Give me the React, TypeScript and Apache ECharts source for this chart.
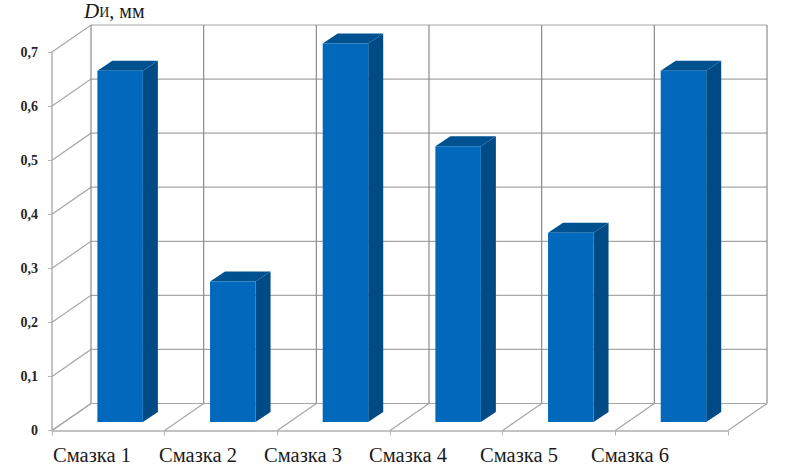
import React, { useEffect, useRef } from "react";
import * as echarts from "echarts";

const categories = ["Смазка 1", "Смазка 2", "Смазка 3", "Смазка 4", "Смазка 5", "Смазка 6"];
const values = [0.65, 0.26, 0.7, 0.51, 0.35, 0.65];
const yTicks = [0, 0.1, 0.2, 0.3, 0.4, 0.5, 0.6, 0.7];
// The reference's category captions sit unevenly, independent of the bars
const captionCentres = [92, 198, 303, 408, 519, 630];

const DEPTH_X = 39;
const DEPTH_Y = 27;
const BAR_DX = 15;
const BAR_DY = 10;
const FACE_RATIO = 45.5 / 112.67;
const WALL = "#a6a6a6";
const DIVIDER = "#8a8a8a";
const FRONT_AXIS = "#b0b0b0";
const FONT = '"Liberation Serif", "Times New Roman", serif';

export default function App() {
  const ref = useRef<HTMLDivElement>(null);
  useEffect(() => {
    document.body.style.margin = "0";
    const chart = echarts.init(ref.current!, null, { renderer: "svg" });
    const line = (pts: number[][], stroke: string, lineWidth = 1.2) => ({
      type: "polyline",
      shape: { points: pts },
      style: { stroke, lineWidth, fill: "none" },
    });

    chart.setOption({
      animation: false,
      backgroundColor: "#ffffff",
      title: {
        left: 84,
        top: 3,
        padding: 0,
        text: "{d|D}{s|И}{r|, мм}",
        textStyle: {
          fontWeight: "normal",
          rich: {
            d: { fontFamily: FONT, fontSize: 21, fontStyle: "italic", fontWeight: "normal", color: "#1a1a1a", lineHeight: 15, height: 15 },
            s: { fontFamily: FONT, fontSize: 14, fontStyle: "normal", fontWeight: "normal", color: "#1a1a1a", lineHeight: 15, height: 15, padding: [4, 0, 0, 0] },
            r: { fontFamily: FONT, fontSize: 20, fontStyle: "normal", fontWeight: "normal", color: "#1a1a1a", lineHeight: 15, height: 15 },
          },
        },
      },
      grid: [
        { left: 52, width: 676, top: 52, height: 378.5 },
        { left: 63.8, width: 676, top: 43.6, height: 378.4 },
      ],
      xAxis: [
        {
          type: "category",
          gridIndex: 0,
          data: categories,
          boundaryGap: true,
          axisLine: { show: true, lineStyle: { color: FRONT_AXIS, width: 1.5 } },
          axisTick: { show: true, alignWithLabel: false, length: 5, lineStyle: { color: "#b5b5b5" } },
          axisLabel: { show: false },
          splitLine: { show: false },
        },
        {
          type: "category",
          gridIndex: 1,
          data: categories,
          show: false,
        },
      ],
      yAxis: [
        {
          type: "value",
          gridIndex: 0,
          min: 0,
          max: 0.7,
          interval: 0.1,
          axisLine: { show: true, lineStyle: { color: FRONT_AXIS, width: 1.5 } },
          axisTick: { show: true, length: 4, lineStyle: { color: "#b5b5b5" } },
          axisLabel: {
            margin: 14,
            fontFamily: FONT,
            fontWeight: "bold",
            fontSize: 14,
            color: "#262626",
            formatter: (v: number) => (v === 0 ? "0" : v.toFixed(1).replace(".", ",")),
          },
          splitLine: { show: false },
        },
        { type: "value", gridIndex: 1, min: 0, max: 0.7, interval: 0.1, show: false },
      ],
      series: [
        {
          // side-wall and back-wall lines at every value tick
          type: "custom",
          xAxisIndex: 0,
          yAxisIndex: 0,
          z: 1,
          silent: true,
          clip: false,
          data: yTicks.map((t) => [0, t]),
          renderItem: (params: any, api: any) => {
            const cs = params.coordSys;
            const y = api.coord([0, api.value(1)])[1];
            return line(
              [
                [cs.x, y],
                [cs.x + DEPTH_X, y - DEPTH_Y],
                [cs.x + cs.width + DEPTH_X, y - DEPTH_Y],
              ],
              WALL
            );
          },
        },
        {
          // back-wall dividers and floor lines at every category boundary
          type: "custom",
          xAxisIndex: 0,
          yAxisIndex: 0,
          z: 1,
          silent: true,
          clip: false,
          data: [...categories, ""].map(() => [0, 0]),
          renderItem: (params: any) => {
            const cs = params.coordSys;
            const x = cs.x + (params.dataIndex * cs.width) / categories.length;
            const bottom = cs.y + cs.height;
            return {
              type: "group",
              children: [
                line([[x + DEPTH_X, cs.y - DEPTH_Y], [x + DEPTH_X, bottom - DEPTH_Y]], DIVIDER),
                line([[x, bottom], [x + DEPTH_X, bottom - DEPTH_Y]], WALL),
              ],
            };
          },
        },
        {
          // 3-D bars
          type: "custom",
          xAxisIndex: 1,
          yAxisIndex: 1,
          z: 5,
          clip: false,
          data: values.map((v, i) => [i, v]),
          encode: { x: 0, y: 1 },
          renderItem: (params: any, api: any) => {
            const top = api.coord([api.value(0), api.value(1)]);
            const base = api.coord([api.value(0), 0]);
            const w = api.size([1, 0])[0] * FACE_RATIO;
            const l = top[0] - w / 2;
            const r = top[0] + w / 2;
            return {
              type: "group",
              children: [
                {
                  type: "polygon",
                  shape: { points: [[r, top[1]], [r + BAR_DX, top[1] - BAR_DY], [r + BAR_DX, base[1] - BAR_DY], [r, base[1]]] },
                  style: { fill: "#004a86" },
                },
                {
                  type: "polygon",
                  shape: { points: [[l, top[1]], [l + BAR_DX, top[1] - BAR_DY], [r + BAR_DX, top[1] - BAR_DY], [r, top[1]]] },
                  style: { fill: "#00518f" },
                },
                {
                  type: "rect",
                  shape: { x: l, y: top[1], width: w, height: base[1] - top[1] },
                  style: { fill: "#0069bb" },
                },
              ],
            };
          },
        },
      ],
      graphic: categories.map((c, i) => ({
        type: "text",
        x: captionCentres[i],
        y: 454.5,
        style: {
          text: c,
          fontFamily: FONT,
          fontSize: 20.5,
          fill: "#1a1a1a",
          align: "center",
          verticalAlign: "middle",
        },
      })),
    });
    return () => chart.dispose();
  }, []);
  return <div ref={ref} style={{ width: 788, height: 465 }} />;
}
